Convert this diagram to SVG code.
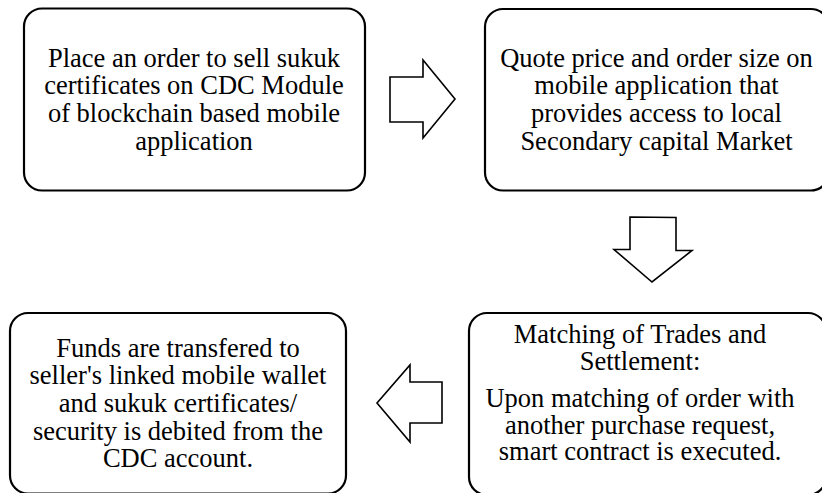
<svg xmlns="http://www.w3.org/2000/svg" width="822" height="493" viewBox="0 0 822 493">
<style>
.box{fill:#fff;stroke:#000;stroke-width:2.2}
.arr{fill:#fff;stroke:#000;stroke-width:1.6;stroke-linejoin:miter}
text{font-family:"Liberation Serif","Times New Roman",serif;font-size:26.5px;fill:#000;text-anchor:middle}
</style>
<rect width="822" height="493" fill="#fff"/>
<g id="node1">
<rect class="box" x="24" y="8.5" width="341" height="182" rx="18" ry="18"/>
<text x="194" y="66.5">Place an order to sell sukuk</text>
<text x="194" y="94.3">certificates on CDC Module</text>
<text x="194" y="122.1">of blockchain based mobile</text>
<text x="194" y="149.9">application</text>
</g>
<g id="node2">
<rect class="box" x="485" y="9" width="344" height="181.5" rx="18" ry="18"/>
<text x="656.5" y="66.5">Quote price and order size on</text>
<text x="656.5" y="94.3">mobile application that</text>
<text x="656.5" y="122.1">provides access to local</text>
<text x="656.5" y="149.9">Secondary capital Market</text>
</g>
<g id="node3">
<rect class="box" x="469" y="313" width="357" height="182" rx="18" ry="18"/>
<text x="640" y="343.3">Matching of Trades and</text>
<text x="640" y="370.3">Settlement:</text>
<text x="640" y="406.7">Upon matching of order with</text>
<text x="640" y="433.5">another purchase request,</text>
<text x="640" y="460.3">smart contract is executed.</text>
</g>
<g id="node4">
<rect class="box" x="10" y="313" width="336" height="180.5" rx="18" ry="18"/>
<text x="178" y="356.7">Funds are transfered to</text>
<text x="178" y="384.3">seller's linked mobile wallet</text>
<text x="178" y="411.9">and sukuk certificates/</text>
<text x="178" y="439.6">security is debited from the</text>
<text x="178" y="467.3">CDC account.</text>
</g>
<g id="connectors">
<polygon class="arr" points="390,77 423,77 423,60 455,99 423,138 423,122 390,122"/>
<polygon class="arr" points="630,217 676,217.5 676,250.5 692,250.5 652,282 614,249.5 630,249.5"/>
<polygon class="arr" points="442,382 410,382 410,365 377,403 410,442 410,423 442,423"/>
</g>
</svg>
